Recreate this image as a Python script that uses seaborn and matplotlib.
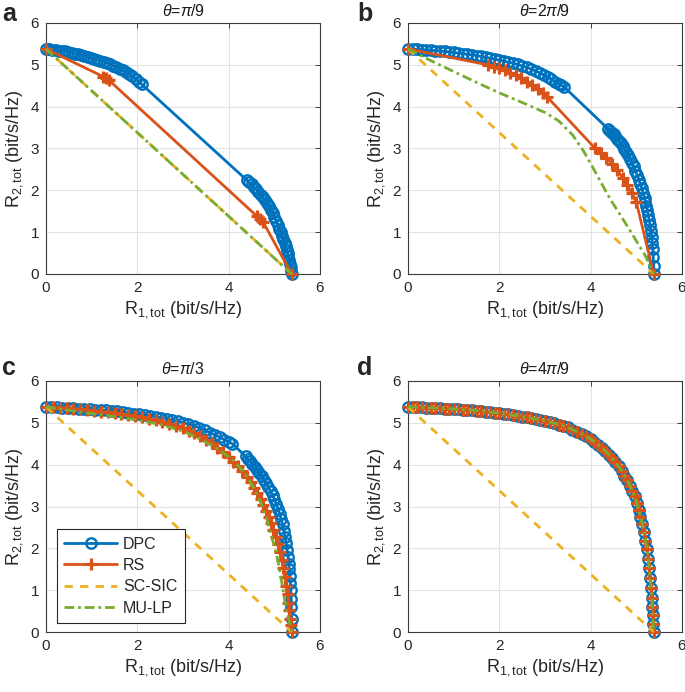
import matplotlib.pyplot as plt
import seaborn as sns

# rate regions, (R1, R2) in bit/s/Hz
a_dpc_x = [0, 0.07, 0.14, 0.21, 0.28, 0.35, 0.42, 0.49, 0.56, 0.63, 0.7, 0.77, 0.84, 0.91, 0.98, 1.05,
           1.12, 1.19, 1.26, 1.33, 1.4, 1.47, 1.54, 1.61, 1.68, 1.75, 1.82, 1.89, 1.96, 2.03, 2.1,
           4.4, 4.45, 4.5, 4.55, 4.6, 4.65, 4.7, 4.75, 4.8, 4.84, 4.88, 4.92, 4.96, 5.0, 5.04, 5.08,
           5.11, 5.14, 5.17, 5.2, 5.23, 5.25, 5.27, 5.29, 5.31, 5.33, 5.35, 5.36, 5.37, 5.38]
a_dpc_y = [5.38, 5.37, 5.36, 5.35, 5.34, 5.33, 5.32, 5.3, 5.29, 5.27, 5.25, 5.23, 5.21, 5.19, 5.17, 5.15,
           5.12, 5.1, 5.07, 5.05, 5.02, 4.98, 4.95, 4.91, 4.87, 4.83, 4.78, 4.73, 4.67, 4.6, 4.53,
           2.24, 2.19, 2.14, 2.09, 2.03, 1.97, 1.9, 1.83, 1.76, 1.69, 1.62, 1.54, 1.45, 1.36, 1.27, 1.17,
           1.08, 1.0, 0.91, 0.83, 0.74, 0.66, 0.58, 0.5, 0.42, 0.33, 0.25, 0.16, 0.08, 0]
a_rs_x = [0, 1.25, 1.32, 1.38, 4.62, 4.68, 4.75, 5.38]
a_rs_y = [5.38, 4.72, 4.68, 4.63, 1.38, 1.32, 1.25, 0]
a_mulp_x = [0, 5.38]
a_mulp_y = [5.38, 0]

b_dpc_x = [0, 0.1, 0.2, 0.3, 0.4, 0.5, 0.6, 0.7, 0.8, 0.9, 1.0, 1.1, 1.2, 1.3, 1.4, 1.5, 1.6, 1.7, 1.8, 1.9,
           2.0, 2.1, 2.2, 2.3, 2.4, 2.5, 2.6, 2.7, 2.8, 2.9, 2.98, 3.06, 3.14, 3.22, 3.3, 3.36, 3.42,
           4.38, 4.42, 4.46, 4.5, 4.54, 4.58, 4.62, 4.66, 4.7, 4.74, 4.78, 4.82, 4.86, 4.9, 4.94, 4.98,
           5.02, 5.06, 5.09, 5.12, 5.15, 5.18, 5.2, 5.22, 5.24, 5.26, 5.28, 5.3, 5.32, 5.34, 5.35, 5.36,
           5.37, 5.38, 5.38]
b_dpc_y = [5.38, 5.38, 5.37, 5.36, 5.36, 5.35, 5.34, 5.33, 5.32, 5.31, 5.3, 5.28, 5.27, 5.25, 5.24, 5.22,
           5.2, 5.18, 5.16, 5.14, 5.11, 5.09, 5.06, 5.04, 5.01, 4.97, 4.94, 4.9, 4.85, 4.8, 4.76, 4.71,
           4.66, 4.6, 4.55, 4.51, 4.47,
           3.47, 3.43, 3.38, 3.34, 3.29, 3.23, 3.18, 3.12, 3.06, 2.99, 2.92, 2.84, 2.75, 2.66, 2.57, 2.46,
           2.36, 2.24, 2.15, 2.05, 1.94, 1.82, 1.73, 1.63, 1.53, 1.42, 1.3, 1.17, 1.03, 0.88, 0.74, 0.59,
           0.4, 0.2, 0]
b_rs_x = [0, 1.75, 1.88, 2.0, 2.12, 2.24, 2.36, 2.48, 2.6, 2.72, 2.84, 2.96, 3.05,
          4.1, 4.22, 4.34, 4.46, 4.58, 4.7, 4.8, 4.9, 5.0, 5.38]
b_rs_y = [5.38, 5.0, 4.96, 4.92, 4.87, 4.81, 4.75, 4.68, 4.6, 4.51, 4.42, 4.32, 4.23,
          3.0, 2.9, 2.78, 2.64, 2.48, 2.3, 2.12, 1.93, 1.72, 0]
b_mulp_x = [0, 0.5, 1.0, 1.5, 2.0, 2.5, 3.0, 3.3, 3.6, 3.85, 4.05, 4.25, 4.45, 4.65, 4.85, 5.05, 5.2, 5.38]
b_mulp_y = [5.38, 5.1, 4.84, 4.58, 4.33, 4.1, 3.86, 3.66, 3.33, 2.93, 2.54, 2.14, 1.75, 1.41, 1.06, 0.7, 0.43, 0]

c_dpc_x = [0, 0.12, 0.24, 0.36, 0.48, 0.6, 0.72, 0.84, 0.96, 1.08, 1.2, 1.32, 1.44, 1.56, 1.68, 1.8,
           1.92, 2.04, 2.16, 2.28, 2.4, 2.52, 2.64, 2.76, 2.88, 3.0, 3.12, 3.24, 3.36, 3.48, 3.6, 3.7,
           3.8, 3.9, 4.0, 4.08,
           4.37, 4.42, 4.47, 4.52, 4.57, 4.62, 4.67, 4.72, 4.77, 4.82, 4.87, 4.92, 4.96, 5.0, 5.04, 5.08,
           5.12, 5.15, 5.18, 5.21, 5.24, 5.26, 5.28, 5.3, 5.32, 5.33, 5.34, 5.35, 5.36, 5.37, 5.37, 5.38, 5.38]
c_dpc_y = [5.38, 5.38, 5.37, 5.36, 5.36, 5.35, 5.34, 5.33, 5.32, 5.31, 5.31, 5.3, 5.29, 5.28, 5.26, 5.24,
           5.22, 5.21, 5.19, 5.17, 5.15, 5.12, 5.1, 5.07, 5.04, 5.0, 4.97, 4.93, 4.88, 4.82, 4.76, 4.71,
           4.66, 4.6, 4.55, 4.5,
           4.2, 4.14, 4.08, 4.02, 3.95, 3.88, 3.8, 3.72, 3.64, 3.55, 3.46, 3.36, 3.27, 3.18, 3.07, 2.95,
           2.82, 2.7, 2.57, 2.42, 2.26, 2.12, 1.97, 1.8, 1.63, 1.5, 1.35, 1.18, 1.0, 0.8, 0.6, 0.3, 0]
c_rs_x = [0, 0.15, 0.3, 0.45, 0.6, 0.75, 0.9, 1.05, 1.2, 1.35, 1.5, 1.65, 1.8, 1.95, 2.1, 2.25, 2.4,
          2.55, 2.7, 2.85, 3.0, 3.13, 3.25, 3.38, 3.5, 3.63, 3.75, 3.88, 4.0, 4.1, 4.2, 4.3, 4.4, 4.48,
          4.55, 4.63, 4.7, 4.76, 4.82, 4.88, 4.93, 4.98, 5.03, 5.08, 5.12, 5.16, 5.2, 5.23, 5.26, 5.29,
          5.31, 5.33, 5.35, 5.37, 5.38]
c_rs_y = [5.38, 5.37, 5.36, 5.35, 5.33, 5.32, 5.3, 5.29, 5.27, 5.25, 5.23, 5.21, 5.19, 5.16, 5.13, 5.1,
          5.06, 5.02, 4.98, 4.93, 4.87, 4.81, 4.75, 4.68, 4.6, 4.51, 4.41, 4.3, 4.18, 4.07, 3.96, 3.84,
          3.7, 3.58, 3.45, 3.32, 3.18, 3.04, 2.9, 2.75, 2.6, 2.44, 2.28, 2.1, 1.92, 1.72, 1.52, 1.32,
          1.1, 0.9, 0.7, 0.52, 0.32, 0.16, 0]
c_mulp_x = [0, 0.5, 1.0, 1.5, 2.0, 2.5, 3.0, 3.4, 3.8, 4.1, 4.35, 4.55, 4.7, 4.82, 4.95, 5.07, 5.17, 5.25, 5.38]
c_mulp_y = [5.38, 5.3, 5.22, 5.15, 5.07, 4.96, 4.8, 4.6, 4.35, 4.1, 3.8, 3.45, 3.1, 2.75, 2.25, 1.75, 1.15, 0.6, 0]

# theta = 4pi/9: DPC, RS and MU-LP coincide
d_x = [0, 0.1, 0.2, 0.3, 0.4, 0.5, 0.6, 0.7, 0.8, 0.9, 1.0, 1.1, 1.2, 1.3, 1.4, 1.5, 1.6, 1.7, 1.8, 1.9,
       2.0, 2.1, 2.2, 2.3, 2.4, 2.5, 2.6, 2.7, 2.8, 2.9, 3.0, 3.1, 3.2, 3.3, 3.4, 3.5, 3.6, 3.7, 3.8, 3.9,
       4.0, 4.08, 4.16, 4.24, 4.32, 4.4, 4.47, 4.54, 4.61, 4.68, 4.74, 4.8, 4.86, 4.91, 4.96, 5.01,
       5.05, 5.09, 5.13, 5.17, 5.2, 5.23, 5.26, 5.28, 5.3, 5.32, 5.34, 5.35, 5.36, 5.37, 5.38]
d_y = [5.38, 5.38, 5.37, 5.37, 5.36, 5.36, 5.35, 5.35, 5.34, 5.34, 5.33, 5.32, 5.31, 5.31, 5.3, 5.29,
       5.28, 5.27, 5.25, 5.24, 5.23, 5.21, 5.2, 5.18, 5.17, 5.15, 5.13, 5.11, 5.09, 5.07, 5.05, 5.02,
       4.99, 4.96, 4.93, 4.89, 4.84, 4.79, 4.74, 4.68, 4.61, 4.55, 4.48, 4.41, 4.33, 4.24, 4.15, 4.06,
       3.96, 3.85, 3.74, 3.63, 3.5, 3.37, 3.24, 3.08, 2.92, 2.76, 2.58, 2.38, 2.18, 1.98, 1.74, 1.52,
       1.3, 1.06, 0.82, 0.6, 0.4, 0.2, 0]

sic_x = [0, 5.38]
sic_y = [5.38, 0]

titles = [r"$\theta$=$\pi$/9", r"$\theta$=2$\pi$/9", r"$\theta$=$\pi$/3", r"$\theta$=4$\pi$/9"]
letters = ["a", "b", "c", "d"]
names = ["DPC", "RS", "SC-SIC", "MU-LP"]

panels = [
    (a_dpc_x, a_dpc_y, a_rs_x, a_rs_y, a_mulp_x, a_mulp_y),
    (b_dpc_x, b_dpc_y, b_rs_x, b_rs_y, b_mulp_x, b_mulp_y),
    (c_dpc_x, c_dpc_y, c_rs_x, c_rs_y, c_mulp_x, c_mulp_y),
    (d_x, d_y, d_x, d_y, d_x, d_y),
]

blue, red, yellow, green = "#0072BD", "#D95319", "#EDB120", "#77AC30"

sns.set_style("whitegrid")
plt.rcParams["font.family"] = ["Liberation Sans", "DejaVu Sans"]
plt.rcParams["mathtext.fontset"] = "custom"
plt.rcParams["mathtext.rm"] = "Liberation Sans"
plt.rcParams["mathtext.it"] = "Liberation Sans:italic"

fig = plt.figure(figsize=(6.85, 6.92), dpi=100, facecolor="w")

W, H = 685, 692
boxes = [(46, 23), (408, 23), (46, 381), (408, 381)]
aw, ah = 274, 251
letter_pos = [(2, 21), (357, 21), (2, 375), (357, 375)]

for i, (dx, dy, rx, ry, mx, my) in enumerate(panels):
    left, top = boxes[i]
    ax = fig.add_axes([left / W, 1 - (top + ah) / H, aw / W, ah / H])

    sns.lineplot(x=dx, y=dy, ax=ax, sort=False, estimator=None, color=blue, lw=2,
                 marker="o", markersize=7.5, markerfacecolor="none",
                 markeredgecolor=blue, markeredgewidth=1.7, clip_on=False, zorder=3)
    sns.lineplot(x=rx, y=ry, ax=ax, sort=False, estimator=None, color=red, lw=2,
                 marker="+", markersize=8, markeredgecolor=red, markeredgewidth=2.3,
                 clip_on=False, zorder=4)
    sns.lineplot(x=sic_x, y=sic_y, ax=ax, sort=False, estimator=None, color=yellow, lw=2,
                 linestyle=(0, (3, 2.6)), clip_on=False, zorder=5)
    sns.lineplot(x=mx, y=my, ax=ax, sort=False, estimator=None, color=green, lw=2,
                 linestyle=(0, (3.5, 1.4, 1, 1.4)), clip_on=False, zorder=6)

    ax.set_xlim(0, 6)
    ax.set_ylim(0, 6)
    ax.set_xticks([0, 2, 4, 6])
    ax.set_yticks([0, 1, 2, 3, 4, 5, 6])
    ax.grid(True, color="#e3e3e3", lw=0.8)
    ax.set_axisbelow(True)
    for s in ax.spines.values():
        s.set_color("#3a3a3a")
        s.set_linewidth(0.8)
    ax.tick_params(direction="in", length=3.5, width=0.7, color="#3a3a3a",
                   top=True, right=True, labelsize=11, labelcolor="#262626", pad=5)
    ax.set_xlabel(r"$\mathregular{R_{1,tot}}$ (bit/s/Hz)", fontsize=13, color="#262626", labelpad=3)
    ax.set_ylabel(r"$\mathregular{R_{2,tot}}$ (bit/s/Hz)", fontsize=13, color="#262626", labelpad=4)
    ax.set_title(titles[i], fontsize=11.5, color="#1a1a1a", pad=5)

    if i == 2:
        lines = ax.get_lines()[:4]
        leg = ax.legend(lines, names, loc="lower left", bbox_to_anchor=(0.04, 0.036),
                        borderaxespad=0, fontsize=11.5, handlelength=3.3, numpoints=1,
                        frameon=True, fancybox=False, framealpha=1, borderpad=0.45,
                        labelspacing=0.4, handletextpad=0.4)
        leg.get_frame().set_edgecolor("#262626")
        leg.get_frame().set_linewidth(0.8)

    lx, ly = letter_pos[i]
    fig.text(lx / W, 1 - ly / H, letters[i], fontsize=18, fontweight="bold",
             ha="left", va="baseline")

fig.savefig("out.png", dpi=100)
